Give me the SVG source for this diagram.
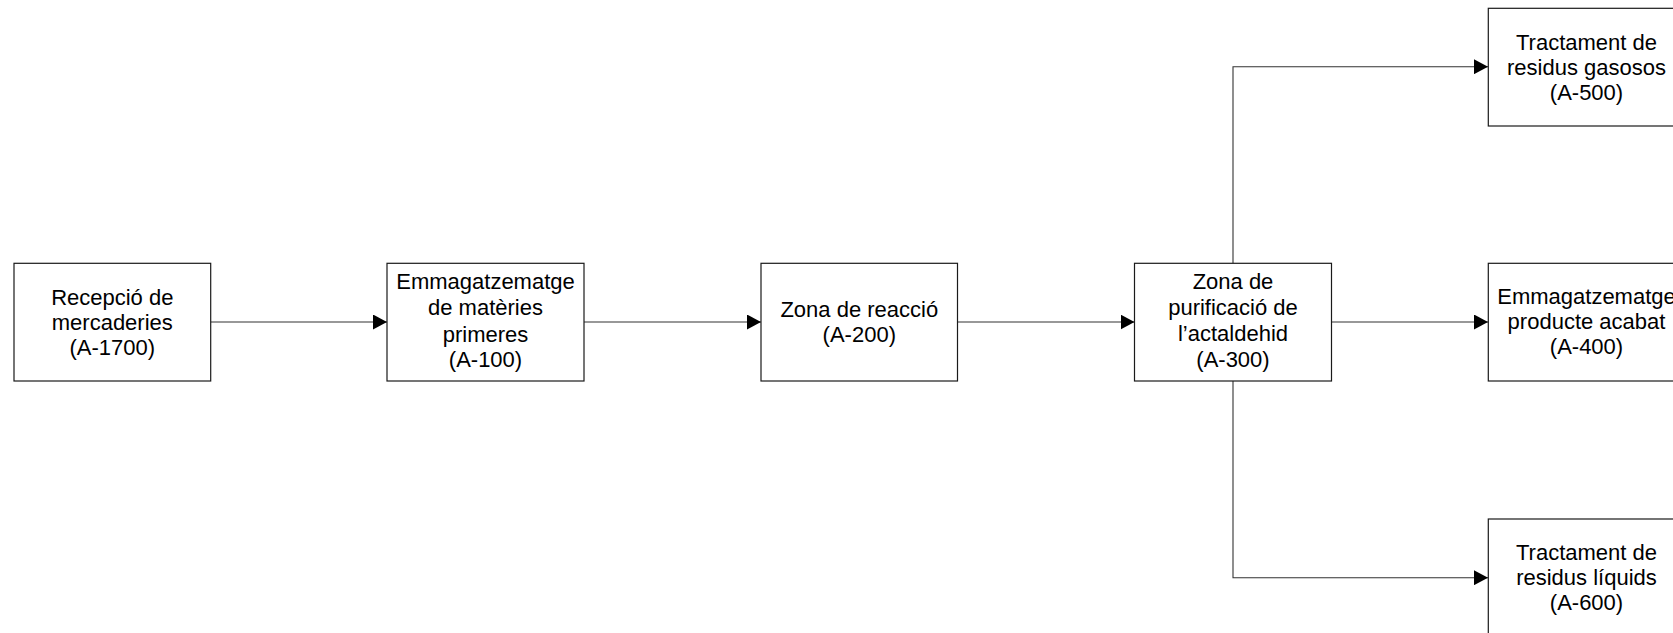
<svg xmlns="http://www.w3.org/2000/svg" width="1673" height="633" viewBox="0 0 1673 633">
  <style>
    .box { fill: #ffffff; stroke: #1a1a1a; stroke-width: 1.2; }
    .lbl { font-family: "Liberation Sans", Arial, sans-serif; font-size: 22px; fill: #000000; text-anchor: middle; }
    .wire { fill: none; stroke: #333333; stroke-width: 1.1; }
  </style>
  <defs>
    <marker id="arrow" viewBox="0 0 14 15" refX="14" refY="7.5" markerWidth="14" markerHeight="15" markerUnits="userSpaceOnUse" orient="auto">
      <path d="M0,0 L14,7.5 L0,15 Z" fill="#000000"/>
    </marker>
  </defs>
  <rect width="1673" height="633" fill="#ffffff"/>

  <!-- flow connectors -->
  <g id="connectors">
    <path class="wire" d="M210.7,322 H387" marker-end="url(#arrow)"/>
    <path class="wire" d="M584,322 H761" marker-end="url(#arrow)"/>
    <path class="wire" d="M957.5,322 H1134.5" marker-end="url(#arrow)"/>
    <path class="wire" d="M1331.5,322 H1488" marker-end="url(#arrow)"/>
    <path class="wire" d="M1233,263.3 V66.7 H1488" marker-end="url(#arrow)"/>
    <path class="wire" d="M1233,381 V577.7 H1488" marker-end="url(#arrow)"/>
  </g>

  <g id="a1700">
    <rect class="box" x="14" y="263.3" width="196.7" height="117.7"/>
    <text class="lbl" x="112.3" y="304.5">Recepció de</text>
    <text class="lbl" x="112.3" y="329.5">mercaderies</text>
    <text class="lbl" x="112.3" y="354.5">(A-1700)</text>
  </g>

  <g id="a100">
    <rect class="box" x="387" y="263.3" width="197" height="117.7"/>
    <text class="lbl" x="485.5" y="289">Emmagatzematge</text>
    <text class="lbl" x="485.5" y="315">de matèries</text>
    <text class="lbl" x="485.5" y="341.5">primeres</text>
    <text class="lbl" x="485.5" y="367">(A-100)</text>
  </g>

  <g id="a200">
    <rect class="box" x="761" y="263.3" width="196.5" height="117.7"/>
    <text class="lbl" x="859.3" y="316.5">Zona de reacció</text>
    <text class="lbl" x="859.3" y="341.5">(A-200)</text>
  </g>

  <g id="a300">
    <rect class="box" x="1134.5" y="263.3" width="197" height="117.7"/>
    <text class="lbl" x="1233" y="289">Zona de</text>
    <text class="lbl" x="1233" y="315">purificació de</text>
    <text class="lbl" x="1233" y="341">l’actaldehid</text>
    <text class="lbl" x="1233" y="367">(A-300)</text>
  </g>

  <g id="a500">
    <rect class="box" x="1488.3" y="8.3" width="196.7" height="117.7"/>
    <text class="lbl" x="1586.5" y="49.5">Tractament de</text>
    <text class="lbl" x="1586.5" y="74.5">residus gasosos</text>
    <text class="lbl" x="1586.5" y="99.5">(A-500)</text>
  </g>

  <g id="a400">
    <rect class="box" x="1488.3" y="263.3" width="196.7" height="117.7"/>
    <text class="lbl" x="1586.5" y="304">Emmagatzematge</text>
    <text class="lbl" x="1586.5" y="329">producte acabat</text>
    <text class="lbl" x="1586.5" y="354">(A-400)</text>
  </g>

  <g id="a600">
    <rect class="box" x="1488.3" y="519" width="196.7" height="117.7"/>
    <text class="lbl" x="1586.5" y="560">Tractament de</text>
    <text class="lbl" x="1586.5" y="585">residus líquids</text>
    <text class="lbl" x="1586.5" y="610">(A-600)</text>
  </g>
</svg>
